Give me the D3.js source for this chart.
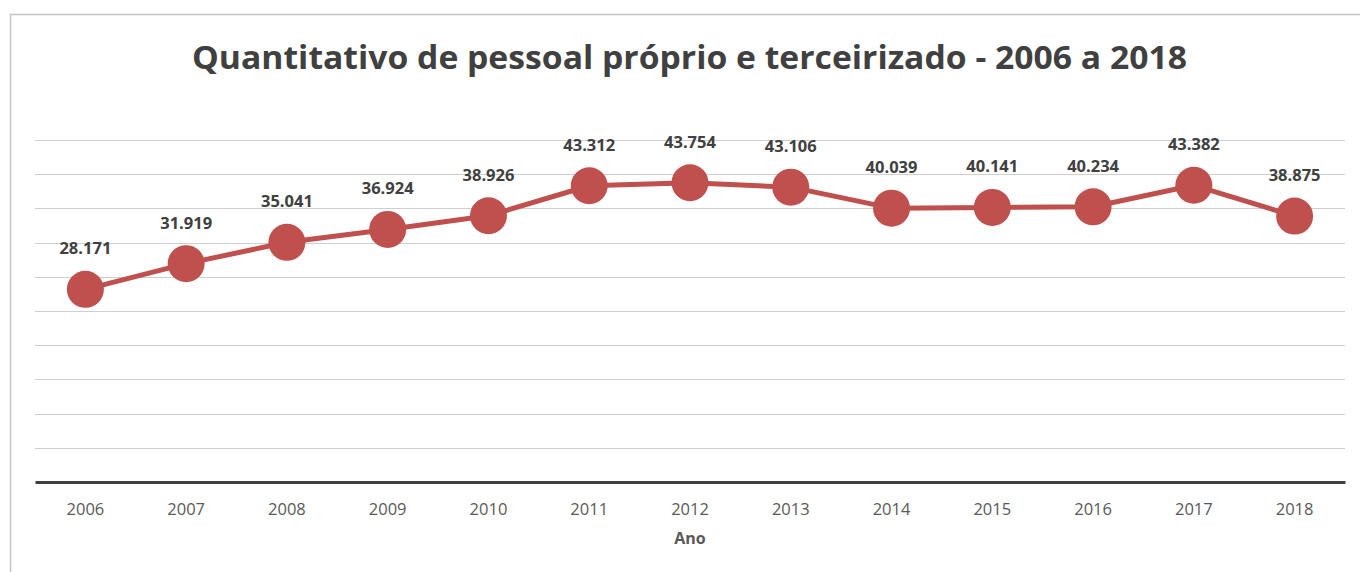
<!DOCTYPE html>
<html><head><meta charset="utf-8">
<script src="https://cdn.jsdelivr.net/npm/d3@7/dist/d3.min.js"></script>
<style>body{margin:0;background:#fff;} svg{display:block;}</style>
</head><body>
<svg id="c" width="1360" height="572"></svg>
<script>
const years = ["2006","2007","2008","2009","2010","2011","2012","2013","2014","2015","2016","2017","2018"];
const values = [28171,31919,35041,36924,38926,43312,43754,43106,40039,40141,40234,43382,38875];
const yTicks = [5000,10000,15000,20000,25000,30000,35000,40000,45000,50000];
const title = "Quantitativo de pessoal próprio e terceirizado - 2006 a 2018";
const xTitle = "Ano";

const svg = d3.select("#c");
const W = 1360, H = 572;
const m = {left:35, right:15, top:140, bottom:90};
const iw = W - m.left - m.right, ih = H - m.top - m.bottom;

// outer border
svg.append("rect").attr("x",10.5).attr("y",14.5).attr("width",W).attr("height",H)
  .attr("fill","#fff").attr("stroke","#c4c4c4").attr("stroke-width",1.5);

const x = d3.scaleBand().domain(years).range([m.left, m.left+iw]);
const y = d3.scaleLinear().domain([0,50000]).range([m.top+ih, m.top]);
const loc = d3.formatLocale({decimal:",", thousands:".", grouping:[3], currency:["",""]});
const fmt = loc.format(",d");

svg.append("text").attr("x",689.5).attr("y",69).attr("text-anchor","middle")
  .attr("font-family","Open Sans").attr("font-weight","bold").attr("font-size",32)
  .attr("fill","#404040").attr("textLength",995).attr("lengthAdjust","spacingAndGlyphs")
  .text(title);

const g = svg.append("g");
g.selectAll("line.grid").data(yTicks).join("line").attr("class","grid")
  .attr("x1",m.left).attr("x2",m.left+iw)
  .attr("y1",d=>Math.round(y(d))+0.5).attr("y2",d=>Math.round(y(d))+0.5)
  .attr("stroke","#cfcfcf").attr("stroke-width",1);

const xAxis = g.append("g").attr("transform",`translate(0,${m.top+ih})`)
  .call(d3.axisBottom(x).tickSize(0).tickPadding(0));
xAxis.select(".domain").attr("stroke","#404040").attr("stroke-width",3);
xAxis.selectAll("text").attr("font-family","Open Sans").attr("font-size",16.5)
  .attr("fill","#595959").attr("dy",0).attr("y",33);

svg.append("text").attr("x",x("2012")+x.bandwidth()/2).attr("y",544).attr("text-anchor","middle")
  .attr("font-family","Open Sans").attr("font-weight","bold").attr("font-size",16)
  .attr("fill","#595959").text(xTitle);

const cx = d=>x(d)+x.bandwidth()/2;
const pts = years.map((yr,i)=>({yr, v:values[i]}));
g.append("path").datum(pts)
  .attr("d", d3.line().x(d=>cx(d.yr)).y(d=>y(d.v)))
  .attr("fill","none").attr("stroke","#c0504d").attr("stroke-width",5).attr("stroke-linejoin","round");
g.selectAll("circle").data(pts).join("circle")
  .attr("cx",d=>cx(d.yr)).attr("cy",d=>y(d.v)).attr("r",18.5).attr("fill","#c0504d");
g.selectAll("text.lbl").data(pts).join("text").attr("class","lbl")
  .attr("x",d=>cx(d.yr)).attr("y",d=>y(d.v)-35).attr("text-anchor","middle")
  .attr("font-family","Open Sans").attr("font-weight","bold").attr("font-size",16.5)
  .attr("fill","#404040").text(d=>fmt(d.v));
</script>
</body></html>
